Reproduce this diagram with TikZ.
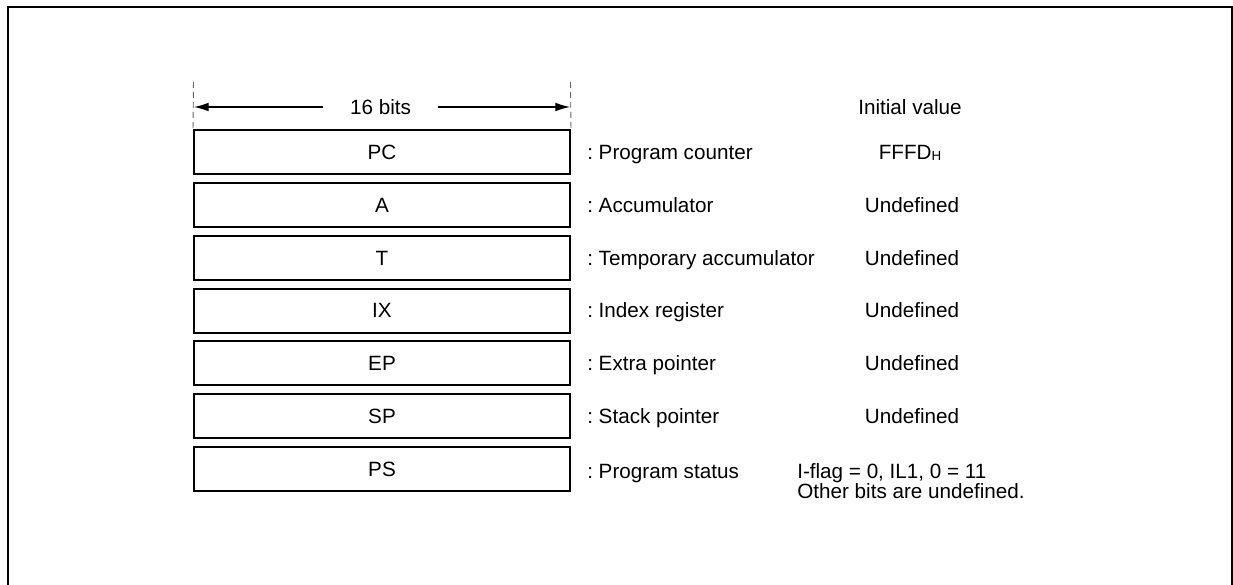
\documentclass[tikz,border=0pt]{standalone}
\usepackage{fontspec}
\setmainfont{Liberation Sans}
\usetikzlibrary{arrows.meta}
\begin{document}
\frenchspacing
\begin{tikzpicture}[x=0.75pt,y=-0.75pt,
  every node/.style={font=\fontsize{15.5}{18.6}\selectfont},
  regbox/.style={draw,line width=1.5pt,minimum width=282pt,minimum height=33pt,inner sep=0pt},
  desc/.style={anchor=base west,inner sep=0pt},
  initval/.style={anchor=base,inner sep=0pt},
  frameline/.style={line width=1.5pt},
  guide/.style={black!60,line width=0.7pt,dash pattern=on 4.5pt off 3pt},
  dimarrow/.style={line width=0.8pt,-{Latex[length=11pt,width=6.5pt]}}
]
\useasboundingbox (0,0) rectangle (1233,585);
% outer frame (open at bottom)
\draw[frameline] (7.5,585) -- (7.5,7.5) -- (1231.5,7.5) -- (1231.5,585);

% registers
\foreach \nm/\txt/\yy in {pc/PC/152, a/A/205, t/T/258, ix/IX/310.5, ep/EP/363, sp/SP/416, ps/PS/469}{
  \node[regbox] (\nm) at (382,\yy) {\txt};
}

% width dimension
\coordinate (gl) at (193.5,82);
\coordinate (gr) at (570.5,82);
\draw[guide] (gl) -- (pc.north west);
\draw[guide] (gr) -- (pc.north east);
\node[inner sep=0pt,minimum width=86pt] (bits) at (380.5,107) {16 bits};
\coordinate (al) at (194,107);
\coordinate (ar) at (570,107);
\draw[dimarrow] (bits.west) -- (al);
\draw[dimarrow] (bits.east) -- (ar);

% descriptions (baseline = row centre + 7.4)
\node[desc] (dpc) at (587,159.4) {: Program counter};
\node[desc] (da)  at (587,212.4) {: Accumulator};
\node[desc] (dt)  at (587,265.4) {: Temporary accumulator};
\node[desc] (dix) at (587,317.9) {: Index register};
\node[desc] (dep) at (587,370.4) {: Extra pointer};
\node[desc] (dsp) at (587,423.4) {: Stack pointer};
\node[desc] (dps) at (587,478.4) {: Program status};

% initial values
\node[initval] (ihead) at (910,114.4) {Initial value};
\node[initval] (ipc) at (910,159.4) {FFFD\raisebox{-0.5pt}{\fontsize{10}{10}\selectfont H}};
\node[initval] (ia)  at (912,212.4) {Undefined};
\node[initval] (it)  at (912,265.4) {Undefined};
\node[initval] (iix) at (912,317.9) {Undefined};
\node[initval] (iep) at (912,370.4) {Undefined};
\node[initval] (isp) at (912,423.4) {Undefined};
\node[desc] (ips1) at (797,478.4) {I-flag = 0, IL1, 0 = 11};
\node[desc] (ips2) at (797,498.4) {Other bits are undefined.};
\end{tikzpicture}
\end{document}
